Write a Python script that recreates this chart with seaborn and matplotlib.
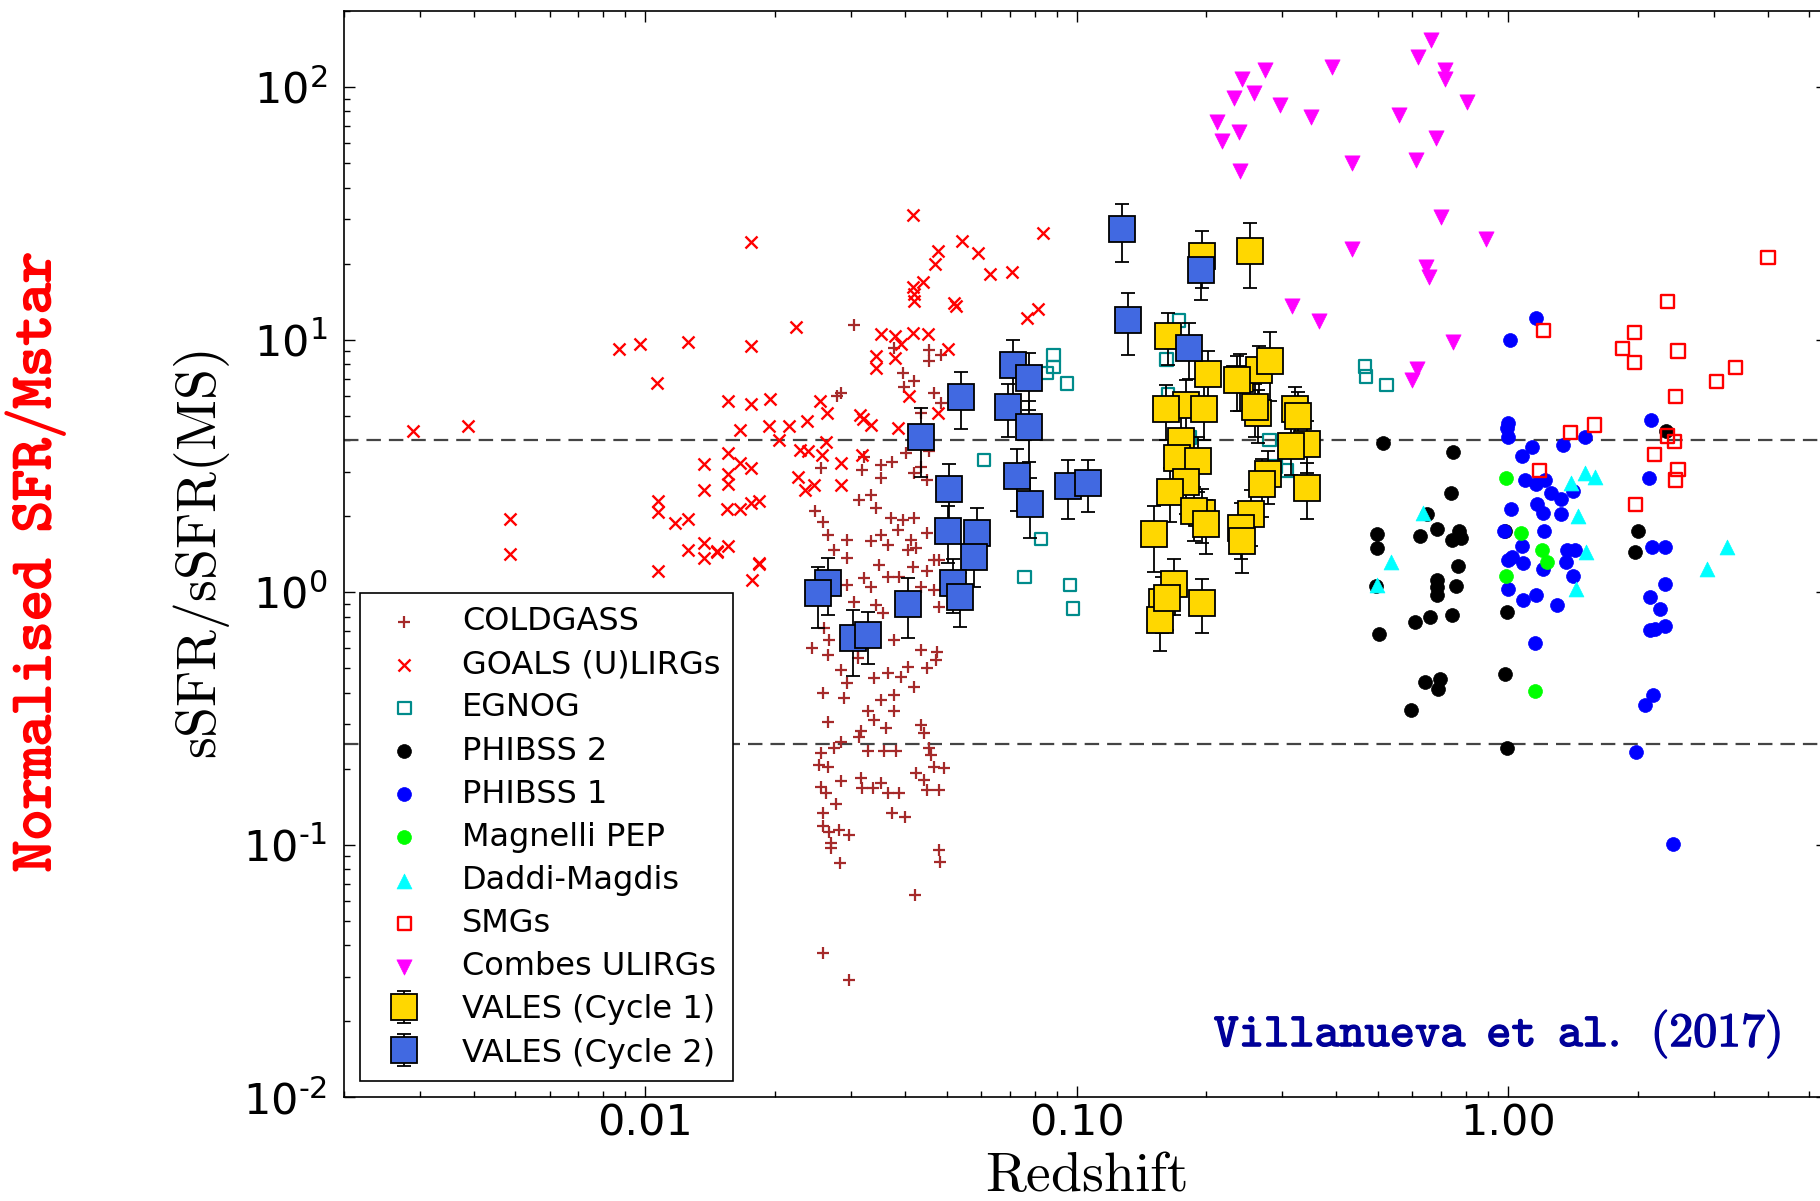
#!/usr/bin/env python3

import numpy as np
import matplotlib as mpl
from matplotlib import pyplot as plt
from matplotlib import ticker
from matplotlib import patheffects as pe
import seaborn as sns

sns.set_style('ticks')
plt.rcParams['font.family'] = ['DejaVu Sans']
plt.rcParams['text.color'] = 'black'
plt.rcParams['axes.labelcolor'] = 'black'
plt.rcParams['xtick.color'] = 'black'
plt.rcParams['ytick.color'] = 'black'
plt.rcParams['axes.edgecolor'] = 'black'

# --- data (redshift, sSFR/sSFR(MS)) ---
coldgass_z = [0.0305, 0.0378, 0.0395, 0.0420, 0.0455, 0.0485, 0.0455, 0.0399, 0.0468, 0.0485,
              0.0435, 0.0284, 0.0402, 0.0455, 0.0420, 0.0435, 0.0451, 0.0374, 0.0352, 0.0352,
              0.0255, 0.0322, 0.0319, 0.0313, 0.0334, 0.0343, 0.0247, 0.0258, 0.0265, 0.0294,
              0.0274, 0.0294, 0.0334, 0.0352, 0.0365, 0.0371, 0.0395, 0.0420, 0.0385, 0.0413,
              0.0406, 0.0424, 0.0451, 0.0468, 0.0417, 0.0349, 0.0322, 0.0294, 0.0305, 0.0334,
              0.0343, 0.0365, 0.0388, 0.0355, 0.0451, 0.0480, 0.0435, 0.0468, 0.0480, 0.0260,
              0.0267, 0.0244, 0.0265, 0.0284, 0.0294, 0.0289, 0.0258, 0.0311, 0.0311, 0.0340,
              0.0365, 0.0378, 0.0392, 0.0406, 0.0420, 0.0435, 0.0451, 0.0476, 0.0472, 0.0378,
              0.0352, 0.0328, 0.0340, 0.0361, 0.0378, 0.0316, 0.0313, 0.0265, 0.0255, 0.0253,
              0.0265, 0.0274, 0.0284, 0.0328, 0.0358, 0.0381, 0.0435, 0.0443, 0.0455, 0.0459,
              0.0468, 0.0424, 0.0493, 0.0255, 0.0262, 0.0284, 0.0316, 0.0319, 0.0337, 0.0352,
              0.0365, 0.0388, 0.0443, 0.0451, 0.0480, 0.0258, 0.0258, 0.0267, 0.0282, 0.0297,
              0.0270, 0.0270, 0.0283, 0.0258, 0.0297, 0.0423, 0.0479, 0.0482, 0.0373, 0.0400,
              0.0277, 0.0279]
coldgass_v = [11.4, 9.25, 7.36, 6.83, 9.11, 8.71, 8.19, 6.52, 6.14, 5.60,
              5.11, 6.14, 3.55, 3.61, 2.96, 3.14, 2.78, 3.29, 3.19, 2.83,
              3.10, 3.44, 3.05, 2.32, 2.43, 2.15, 2.09, 1.90, 1.69, 1.61,
              1.47, 1.36, 1.59, 1.69, 1.54, 1.96, 1.93, 1.96, 1.77, 1.61,
              1.47, 1.49, 1.71, 1.34, 1.26, 1.28, 1.14, 1.07, 0.918, 1.05,
              0.891, 1.15, 1.15, 0.826, 1.21, 1.34, 1.05, 1.02, 0.877, 0.720,
              0.647, 0.600, 0.565, 0.492, 0.436, 0.380, 0.398, 0.591, 0.548, 0.456,
              0.478, 0.647, 0.463, 0.507, 0.423, 0.591, 0.500, 0.582, 0.539, 0.392,
              0.375, 0.337, 0.312, 0.289, 0.337, 0.281, 0.268, 0.307, 0.230, 0.207,
              0.204, 0.241, 0.256, 0.234, 0.234, 0.234, 0.298, 0.276, 0.241, 0.227,
              0.204, 0.192, 0.201, 0.170, 0.160, 0.178, 0.183, 0.167, 0.167, 0.175,
              0.160, 0.160, 0.180, 0.165, 0.165, 0.133, 0.119, 0.112, 0.114, 0.109,
              0.102, 0.097, 0.085, 0.0374, 0.0292, 0.0631, 0.0956, 0.0854, 0.133, 0.129,
              0.145, 6.0]

goals_z = [0.0029, 0.00389, 0.00486, 0.00486, 0.0087, 0.00975, 0.01067, 0.0107, 0.0107, 0.01174,
           0.0126, 0.0126, 0.0107, 0.0126, 0.0137, 0.01466, 0.0177, 0.0184, 0.0176, 0.0418,
           0.0542, 0.0591, 0.0477, 0.0471, 0.0441, 0.0418, 0.0420, 0.0420, 0.0630, 0.0710,
           0.0834, 0.0520, 0.0526, 0.0815, 0.0768, 0.0224, 0.0176, 0.0352, 0.0379, 0.0418,
           0.0452, 0.0392, 0.0343, 0.0343, 0.0379, 0.0503, 0.0156, 0.0176, 0.0195, 0.0254,
           0.0264, 0.0408, 0.0166, 0.0194, 0.0216, 0.0237, 0.0315, 0.0320, 0.0333, 0.0385,
           0.0204, 0.0263, 0.0478, 0.0137, 0.0137, 0.0156, 0.0166, 0.0176, 0.0156, 0.0156,
           0.0155, 0.0166, 0.0176, 0.0184, 0.0137, 0.0147, 0.0156, 0.0184, 0.0229, 0.0238,
           0.0226, 0.0235, 0.0246, 0.0284, 0.0284, 0.0257, 0.0319]
goals_v = [4.34, 4.56, 1.95, 1.41, 9.19, 9.59, 6.76, 2.29, 2.08, 1.87,
           1.95, 1.47, 1.21, 9.82, 1.37, 1.44, 1.12, 1.29, 24.4, 31.2,
           24.6, 22.1, 22.5, 20.0, 16.9, 16.1, 15.2, 14.2, 18.2, 18.6,
           26.4, 13.9, 13.6, 13.2, 12.2, 11.2, 9.43, 10.5, 10.3, 10.6,
           10.5, 9.6, 8.63, 7.71, 8.43, 9.19, 5.69, 5.58, 5.82, 5.69,
           5.11, 6.0, 4.37, 4.56, 4.56, 4.77, 5.03, 4.86, 4.6, 4.48,
           4.0, 3.94, 5.11, 3.23, 2.54, 3.55, 3.25, 3.09, 2.93, 2.68,
           2.14, 2.14, 2.25, 2.29, 1.56, 1.46, 1.53, 1.30, 3.65, 3.61,
           2.87, 2.54, 2.65, 3.25, 2.65, 3.49, 3.49]

egnog_z = [0.0884, 0.0884, 0.0855, 0.0950, 0.0610, 0.0828, 0.0758, 0.0967, 0.0980, 0.1727,
           0.1615, 0.4664, 0.4686, 0.5227, 0.280, 0.289, 0.3075, 0.1833, 0.163]
egnog_v = [8.7, 7.78, 7.38, 6.69, 3.33, 1.62, 1.15, 1.07, 0.86, 11.9,
           8.34, 7.83, 7.13, 6.6, 4.0, 3.14, 3.03, 4.1, 6.1]

phibss2_z = [0.5145, 0.747, 0.740, 2.33, 2.0, 1.974, 0.4965, 0.498, 0.649, 0.626,
             0.684, 0.769, 0.741, 0.777, 0.765, 0.684, 0.684, 0.684, 0.757, 0.494,
             0.986, 0.504, 0.609, 0.660, 0.741, 0.994, 0.643, 0.695, 0.688, 0.596,
             0.983, 0.996]
phibss2_v = [3.91, 3.58, 2.47, 4.34, 1.75, 1.44, 1.70, 1.49, 2.03, 1.67,
             1.78, 1.75, 1.605, 1.64, 1.27, 1.12, 1.045, 0.978, 1.06, 1.06,
             1.75, 0.682, 0.764, 0.797, 0.811, 0.834, 0.441, 0.455, 0.414, 0.340,
             0.476, 0.241]

phibss1_z = [1.165, 1.011, 1.0, 0.996, 1.0, 2.15, 1.14, 1.08, 1.345, 1.51,
             2.13, 1.096, 1.16, 1.218, 1.262, 1.325, 1.416, 1.168, 1.205, 1.33,
             1.018, 0.982, 1.215, 1.08, 1.022, 1.0, 1.084, 1.373, 1.43, 1.365,
             1.205, 1.416, 2.16, 2.31, 2.31, 1.0, 1.084, 1.16, 1.297, 1.155,
             2.14, 2.25, 2.14, 2.19, 2.32, 2.175, 2.085, 1.986, 2.41]
phibss1_v = [12.2, 10.0, 4.69, 4.45, 4.12, 4.81, 3.76, 3.45, 3.84, 4.12,
             2.84, 2.78, 2.68, 2.78, 2.48, 2.33, 2.52, 2.23, 2.06, 2.03,
             2.14, 1.75, 1.75, 1.52, 1.38, 1.34, 1.31, 1.47, 1.47, 1.32,
             1.24, 1.16, 1.51, 1.51, 1.08, 1.03, 0.934, 0.978, 0.892, 0.627,
             0.959, 0.855, 0.71, 0.716, 0.735, 0.391, 0.358, 0.232, 0.101]

magnelli_z = [0.99, 1.073, 1.2, 1.23, 0.99, 1.155]
magnelli_v = [2.83, 1.72, 1.47, 1.32, 1.16, 0.406]

daddi_z = [0.636, 1.403, 1.51, 1.592, 1.454, 1.516, 3.23, 2.9, 0.537, 0.4965, 1.441]
daddi_v = [2.06, 2.71, 2.96, 2.85, 2.0, 1.44, 1.51, 1.24, 1.32, 1.07, 1.03]

smg_z = [4.01, 2.35, 1.212, 1.966, 1.846, 2.48, 1.966, 3.37, 3.04, 2.45,
         1.585, 1.397, 2.35, 2.43, 2.185, 1.184, 2.48, 2.45, 1.974]
smg_v = [21.2, 14.2, 10.9, 10.7, 9.19, 9.01, 8.11, 7.78, 6.81, 5.94,
         4.59, 4.28, 4.15, 3.94, 3.52, 3.03, 3.05, 2.78, 2.23]

combes_z = [0.663, 0.620, 0.714, 0.714, 0.274, 0.2416, 0.391, 0.232, 0.2574, 0.297,
            0.350, 0.212, 0.238, 0.2175, 0.2396, 0.802, 0.560, 0.4345, 0.6133, 0.680,
            0.699, 0.891, 0.436, 0.646, 0.656, 0.3167, 0.365, 0.747, 0.616, 0.600]
combes_v = [153, 131, 117, 108, 117, 108, 120, 90.4, 94.9, 85,
            76.2, 72.6, 66.5, 61.4, 46.6, 87, 77.8, 50, 51.2, 62.7,
            30.5, 25.0, 22.9, 19.3, 17.7, 13.6, 11.9, 9.82, 7.64, 6.93]

vales1_z = [0.2527, 0.1954, 0.1633, 0.2014, 0.2392, 0.2651, 0.2806, 0.1792, 0.1611, 0.1977,
            0.2631, 0.2592, 0.3207, 0.3262, 0.1745, 0.1714, 0.1917, 0.342, 0.3147, 0.278,
            0.2695, 0.342, 0.1798, 0.1646, 0.1953, 0.187, 0.200, 0.254, 0.2409, 0.2424,
            0.1514, 0.1685, 0.1577, 0.1954, 0.1565, 0.2361, 0.1618]
vales1_v = [22.5, 21.5, 10.3, 7.3, 7.0, 7.6, 8.2, 5.5, 5.3, 5.3,
            5.1, 5.4, 5.3, 5.0, 3.95, 3.4, 3.3, 3.87, 3.8, 2.93,
            2.68, 2.59, 2.73, 2.5, 2.06, 2.1, 1.86, 2.03, 1.8, 1.59,
            1.7, 1.08, 0.916, 0.906, 0.773, 6.9, 0.95]
vales1_err = [6.5, 5.5, 2.4, 1.7, 1.8, 1.8, 2.5, 1.4, 1.3, 1.3,
              1.2, 1.3, 1.2, 1.2, 1.0, 0.9, 0.8, 0.9, 0.9, 0.7,
              0.7, 0.65, 0.7, 0.6, 0.5, 0.5, 0.45, 0.5, 0.45, 0.4,
              0.5, 0.27, 0.23, 0.22, 0.19, 1.7, 0.24]

vales2_z = [0.1275, 0.1318, 0.1944, 0.1819, 0.0714, 0.0777, 0.0541, 0.0694, 0.0774, 0.0437,
            0.0727, 0.0781, 0.0953, 0.1064, 0.0505, 0.0504, 0.0589, 0.0579, 0.0516, 0.0536,
            0.02655, 0.0252, 0.0304, 0.0329, 0.0407]
vales2_v = [27.3, 12.0, 18.9, 9.3, 7.95, 7.04, 5.92, 5.40, 4.49, 4.11,
            2.89, 2.24, 2.64, 2.70, 2.56, 1.75, 1.71, 1.38, 1.09, 0.961,
            1.09, 0.99, 0.657, 0.678, 0.899]
vales2_err = [7.0, 3.3, 4.5, 2.3, 2.0, 1.8, 1.5, 1.3, 1.2, 1.25,
              0.8, 0.6, 0.7, 0.63, 0.65, 0.45, 0.45, 0.33, 0.26, 0.23,
              0.28, 0.27, 0.19, 0.16, 0.24]

ms_lines = [4.0, 0.25]

# --- figure ---
fig = plt.figure(figsize=(18.2, 12.01), dpi=100)
ax = fig.add_axes([0.18885, 0.08635, 0.8151, 0.9045])

for yv in ms_lines:
    ax.axhline(yv, color='#444444', lw=1.6, ls=(0, (6.5, 3.6)), zorder=0.8)

sns.scatterplot(x=coldgass_z, y=coldgass_v, marker='+', s=75, color='brown', linewidth=1.6,
                label='COLDGASS', ax=ax)
sns.scatterplot(x=goals_z, y=goals_v, marker='x', s=75, color='red', linewidth=1.7,
                label='GOALS (U)LIRGs', ax=ax)
sns.scatterplot(x=egnog_z, y=egnog_v, marker='s', s=80, facecolor='none', edgecolor='darkcyan',
                linewidth=1.6, label='EGNOG', ax=ax)
sns.scatterplot(x=phibss2_z, y=phibss2_v, marker='o', s=100, color='black', edgecolor='black',
                linewidth=0.5, label='PHIBSS 2', ax=ax)
sns.scatterplot(x=phibss1_z, y=phibss1_v, marker='o', s=100, color='blue', edgecolor='blue',
                linewidth=0.5, label='PHIBSS 1', ax=ax)
sns.scatterplot(x=magnelli_z, y=magnelli_v, marker='o', s=100, color='lime', edgecolor='lime',
                linewidth=0.5, label='Magnelli PEP', ax=ax)
sns.scatterplot(x=daddi_z, y=daddi_v, marker='^', s=115, color='cyan', edgecolor='cyan',
                linewidth=0.5, label='Daddi-Magdis', ax=ax)
sns.scatterplot(x=smg_z, y=smg_v, marker='s', s=90, facecolor='none', edgecolor='red',
                linewidth=1.7, label='SMGs', ax=ax)
sns.scatterplot(x=combes_z, y=combes_v, marker='v', s=120, color='magenta', edgecolor='magenta',
                linewidth=0.5, label='Combes ULIRGs', ax=ax)

ax.errorbar(vales1_z, vales1_v, yerr=vales1_err, fmt='s', ms=18.5, mfc='gold', mec='black',
            mew=1.3, ecolor='black', elinewidth=1.3, capsize=5, capthick=1.3,
            label='VALES (Cycle 1)')
ax.errorbar(vales2_z, vales2_v, yerr=vales2_err, fmt='s', ms=18.5, mfc='royalblue', mec='black',
            mew=1.3, ecolor='black', elinewidth=1.3, capsize=5, capthick=1.3,
            label='VALES (Cycle 2)')

ax.set_xscale('log')
ax.set_yscale('log')
ax.set_xlim(0.002, 5.5)
ax.set_ylim(0.01, 200)

ax.xaxis.set_major_locator(ticker.LogLocator(base=10))
ax.xaxis.set_major_formatter(ticker.FormatStrFormatter('%.2f'))
ax.xaxis.set_minor_formatter(ticker.NullFormatter())
ax.yaxis.set_major_formatter(ticker.FuncFormatter(
    lambda v, p: r'$\mathdefault{10^{%s}}$' % str(int(round(np.log10(v)))).replace('-', '\u2010')))
ax.yaxis.set_minor_formatter(ticker.NullFormatter())

ax.tick_params(which='both', direction='in', top=True, right=True, width=1.0)
ax.tick_params(which='major', length=8, labelsize=31)
ax.tick_params(which='minor', length=4.5)
ax.tick_params(axis='x', which='major', pad=4)
ax.tick_params(axis='y', which='major', pad=12)
for sp in ax.spines.values():
    sp.set_linewidth(1.2)

ax.set_xlabel(r'$\mathrm{Redshift}$', fontsize=40, math_fontfamily='cm', labelpad=3)
ax.set_ylabel(r'$\mathrm{sSFR/sSFR(MS)}$', fontsize=40, math_fontfamily='cm', labelpad=8)

leg = ax.legend(loc='lower left', fontsize=23, frameon=True, fancybox=False, edgecolor='black',
                framealpha=1, borderpad=0.4, labelspacing=0.38, handlelength=2.0,
                handletextpad=0.8, borderaxespad=0.5, scatterpoints=1, numpoints=1)
leg.get_frame().set_linewidth(1.2)

fig.text(0.019, 0.532, r'$\mathtt{Normalised\enspace SFR/Mstar}$', rotation=90, color='red',
         math_fontfamily='cm', fontsize=43, ha='center', va='center',
         path_effects=[pe.withStroke(linewidth=1.3, foreground='red')])
fig.text(0.9786, 0.129, r'$\mathtt{Villanueva\enspace et\enspace al.\enspace (2017)}$',
         color='#000099', math_fontfamily='cm', fontsize=34.5, ha='right', va='baseline',
         path_effects=[pe.withStroke(linewidth=1.0, foreground='#000099')])

fig.savefig('out.png', dpi=100)
